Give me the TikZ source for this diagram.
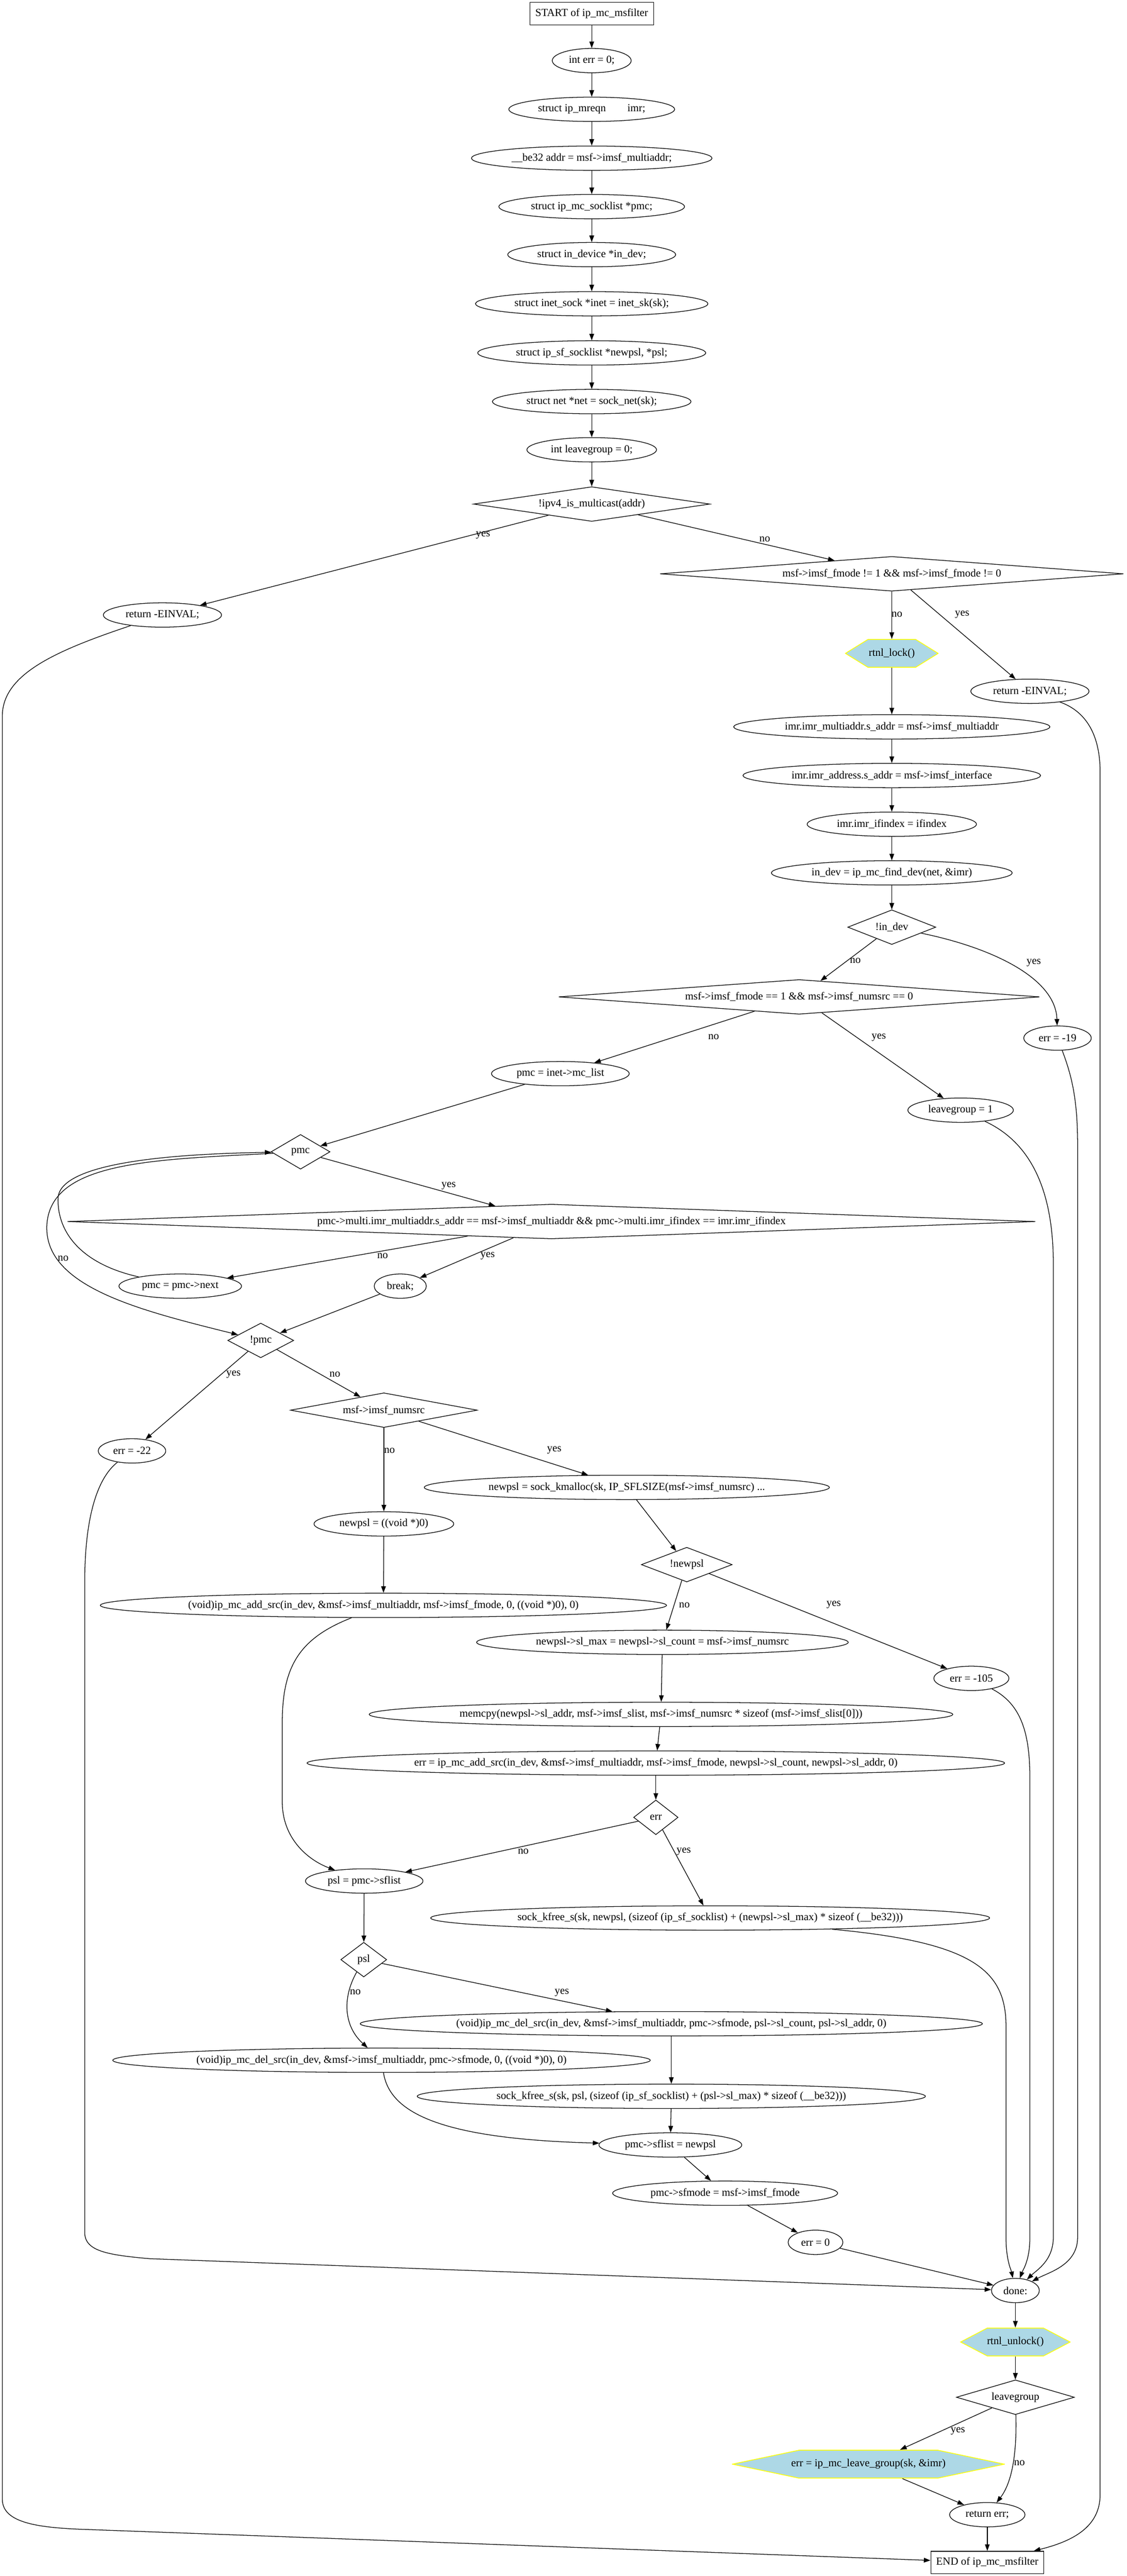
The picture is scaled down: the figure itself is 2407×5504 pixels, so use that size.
\documentclass[tikz,border=0pt]{standalone}
\usepackage{fontspec}
\setmainfont{Liberation Serif}
\usetikzlibrary{shapes.geometric,arrows.meta,calc}

\definecolor{hexfill}{HTML}{ADD8E6}
\definecolor{hexline}{HTML}{FFFF00}

\tikzset{
  every node/.style={font=\fontsize{11.5pt}{13pt}\selectfont},
  stmt/.style={ellipse, draw, line width=0.7pt, inner xsep=5.3pt, inner ysep=1pt, minimum height=26pt},
  term/.style={rectangle, draw, line width=0.7pt, inner xsep=5.8pt, inner ysep=1pt, minimum height=24pt},
  cond/.style={diamond, draw, line width=0.7pt, aspect=1, inner sep=0pt, minimum height=37pt, minimum width=#1,
    execute at begin node={\hbox to 0pt\bgroup\hss}, execute at end node={\hss\egroup}},
  hexnode/.style={rectangle, fill=white, inner sep=0pt, minimum height=30.5pt, minimum width=#1,
    path picture={\filldraw[fill=hexfill, draw=hexline, line width=0.8pt]
      ($(path picture bounding box.west)+(0.5pt,0)$)
      -- ($(path picture bounding box.north west)!.245!(path picture bounding box.north east)+(0,-0.4pt)$)
      -- ($(path picture bounding box.north west)!.755!(path picture bounding box.north east)+(0,-0.4pt)$)
      -- ($(path picture bounding box.east)+(-0.5pt,0)$)
      -- ($(path picture bounding box.south west)!.755!(path picture bounding box.south east)+(0,0.4pt)$)
      -- ($(path picture bounding box.south west)!.245!(path picture bounding box.south east)+(0,0.4pt)$)
      -- cycle;}},
  flow/.style={line width=0.7pt, -{Triangle[length=7pt,width=5pt]}},
  lbl/.style={inner sep=1pt}
}

\begin{document}
\begin{tikzpicture}[x=0.5pt,y=-0.5pt]
    \useasboundingbox (0,0) rectangle (2407,5504);

    % Declarations
    \node [term] (start) at (1264,29) {START of ip\_mc\_msfilter};
    \node [stmt] (interr) at (1264,129.5) {int err = 0;};
    \node [stmt] (mreqn) at (1264,233.5) {struct ip\_mreqn\hspace{2em}imr;};
    \node [stmt] (be32) at (1264,338) {\_\_be32 addr = msf->imsf\_multiaddr;};
    \node [stmt] (socklist) at (1264,441.5) {struct ip\_mc\_socklist *pmc;};
    \node [stmt] (indevice) at (1264,544) {struct in\_device *in\_dev;};
    \node [stmt] (inetsock) at (1264,649) {struct inet\_sock *inet = inet\_sk(sk);};
    \node [stmt] (sfsocklist) at (1264,754) {struct ip\_sf\_socklist *newpsl, *psl;};
    \node [stmt] (netdecl) at (1264,858) {struct net *net = sock\_net(sk);};
    \node [stmt] (leave0) at (1264,961) {int leavegroup = 0;};

    % Argument checks and device lookup
    \node [cond=252.5pt] (ipv4) at (1264,1077) {!ipv4\_is\_multicast(addr)};
    \node [stmt] (einval1) at (347,1314) {return -EINVAL;};
    \node [cond=495pt] (fmode1) at (1905,1226) {msf->imsf\_fmode != 1 \&\& msf->imsf\_fmode != 0};
    \node [hexnode=100pt] (lock) at (1905,1396) {rtnl\_lock()};
    \node [stmt] (einval2) at (2200,1477) {return -EINVAL;};
    \node [stmt] (multiaddr) at (1905,1553) {imr.imr\_multiaddr.s\_addr = msf->imsf\_multiaddr};
    \node [stmt] (ifaddr) at (1905,1657) {imr.imr\_address.s\_addr = msf->imsf\_interface};
    \node [stmt] (ifindex) at (1905,1761) {imr.imr\_ifindex = ifindex};
    \node [stmt] (finddev) at (1905,1865) {in\_dev = ip\_mc\_find\_dev(net, \&imr)};
    \node [cond=94pt] (noindev) at (1905,1981) {!in\_dev};
    \node [cond=513.5pt] (fmode2) at (1707,2130) {msf->imsf\_fmode == 1 \&\& msf->imsf\_numsrc == 0};
    \node [stmt] (err19) at (2259,2218) {err = -19};
    \node [stmt] (mclist) at (1197,2294) {pmc = inet->mc\_list};
    \node [stmt] (leave1) at (2052,2372) {leavegroup = 1};

    % Search of the socket list
    \node [cond=63pt] (pmc) at (642,2461) {pmc};
    \node [cond=1034pt] (match) at (1178,2610) {pmc->multi.imr\_multiaddr.s\_addr == msf->imsf\_multiaddr \&\& pmc->multi.imr\_ifindex == imr.imr\_ifindex};
    \node [stmt] (next) at (385,2748) {pmc = pmc->next};
    \node [stmt] (brk) at (855,2748) {break;};
    \node [cond=70.5pt] (notpmc) at (557,2864) {!pmc};
    \node [stmt] (err22) at (282,3100) {err = -22};
    \node [cond=199.5pt] (numsrc) at (820,3013) {msf->imsf\_numsrc};

    % New source list
    \node [stmt] (kmalloc) at (1339,3178) {newpsl = sock\_kmalloc(sk, IP\_SFLSIZE(msf->imsf\_numsrc) ...};
    \node [stmt] (nullpsl) at (820,3256) {newpsl = ((void *)0)};
    \node [cond=97pt] (notnew) at (1467,3343) {!newpsl};
    \node [stmt] (addsrc0) at (819,3430) {(void)ip\_mc\_add\_src(in\_dev, \&msf->imsf\_multiaddr, msf->imsf\_fmode, 0, ((void *)0), 0)};
    \node [stmt] (slmax) at (1415,3509) {newpsl->sl\_max = newpsl->sl\_count = msf->imsf\_numsrc};
    \node [stmt] (err105) at (2075,3586) {err = -105};
    \node [stmt] (memcpy) at (1412,3663) {memcpy(newpsl->sl\_addr, msf->imsf\_slist, msf->imsf\_numsrc * sizeof (msf->imsf\_slist[0]))};
    \node [stmt] (addsrc) at (1401,3767) {err = ip\_mc\_add\_src(in\_dev, \&msf->imsf\_multiaddr, msf->imsf\_fmode, newpsl->sl\_count, newpsl->sl\_addr, 0)};
    \node [cond=47.5pt] (errd) at (1401,3883) {err};
    \node [stmt] (sflist) at (778,4019) {psl = pmc->sflist};
    \node [stmt] (kfreenew) at (1517,4098) {sock\_kfree\_s(sk, newpsl, (sizeof (ip\_sf\_socklist) + (newpsl->sl\_max) * sizeof (\_\_be32)))};
    \node [cond=49pt] (psld) at (777,4187) {psl};
    \node [stmt] (delsrc) at (1434,4324) {(void)ip\_mc\_del\_src(in\_dev, \&msf->imsf\_multiaddr, pmc->sfmode, psl->sl\_count, psl->sl\_addr, 0)};
    \node [stmt] (delsrc0) at (815,4402) {(void)ip\_mc\_del\_src(in\_dev, \&msf->imsf\_multiaddr, pmc->sfmode, 0, ((void *)0), 0)};
    \node [stmt] (kfreepsl) at (1434,4479) {sock\_kfree\_s(sk, psl, (sizeof (ip\_sf\_socklist) + (psl->sl\_max) * sizeof (\_\_be32)))};
    \node [stmt] (setlist) at (1432,4583) {pmc->sflist = newpsl};
    \node [stmt] (setmode) at (1549,4686) {pmc->sfmode = msf->imsf\_fmode};
    \node [stmt] (err0) at (1742,4791) {err = 0};

    % Exit
    \node [stmt] (done) at (2169,4894) {done:};
    \node [hexnode=118pt] (unlock) at (2169,5004) {rtnl\_unlock()};
    \node [cond=126pt] (leaved) at (2169,5122) {leavegroup};
    \node [hexnode=291.5pt] (leavegrp) at (1855,5265) {err = ip\_mc\_leave\_group(sk, \&imr)};
    \node [stmt] (reterr) at (2109,5373) {return err;};
    \node [term] (stop) at (2109,5475) {END of ip\_mc\_msfilter};

    % Plain connectors
    \foreach \a/\b in {start/interr, interr/mreqn, mreqn/be32, be32/socklist, socklist/indevice,
        indevice/inetsock, inetsock/sfsocklist, sfsocklist/netdecl, netdecl/leave0, leave0/ipv4,
        lock/multiaddr, multiaddr/ifaddr, ifaddr/ifindex, ifindex/finddev, finddev/noindev,
        mclist/pmc, brk/notpmc, nullpsl/addsrc0, kmalloc/notnew, slmax/memcpy, memcpy/addsrc,
        addsrc/errd, sflist/psld, delsrc/kfreepsl, kfreepsl/setlist, setlist/setmode,
        setmode/err0, err0/done, done/unlock, unlock/leaved, leavegrp/reterr, reterr/stop}
        \draw [flow] (\a) -- (\b);

    % Branches
    \draw [flow] (ipv4) -- (einval1) node [lbl, pos=.22, xshift=12pt] {yes};
    \draw [flow] (ipv4) -- (fmode1) node [lbl, pos=.54, xshift=22pt] {no};
    \draw [flow] (fmode1) -- (lock) node [lbl, pos=.49, xshift=5.5pt] {no};
    \draw [flow] (fmode1) -- (einval2) node [lbl, pos=.275, xshift=24pt] {yes};
    \draw [flow] (noindev) -- (fmode2) node [lbl, pos=.52, xshift=8.5pt] {no};
    \draw [flow] (noindev) .. controls (2120,2025) and (2255,2090) .. (err19) node [lbl, pos=.45, xshift=28pt] {yes};
    \draw [flow] (fmode2) -- (mclist) node [lbl, pos=.5, xshift=42pt] {no};
    \draw [flow] (fmode2) -- (leave1) node [lbl, pos=.29, xshift=23pt] {yes};
    \draw [flow] (pmc) -- (match) node [lbl, pos=.59, xshift=26.5pt] {yes};
    \draw [flow] (pmc) .. controls (330,2478) and (105,2480) .. (100,2620)
        .. controls (96,2750) and (300,2800) .. (notpmc) node [lbl, pos=.2, xshift=7pt] {no};
    \draw [flow] (match) -- (next) node [lbl, pos=.47, xshift=30pt] {no};
    \draw [flow] (match) -- (brk) node [lbl, pos=.45, xshift=17.5pt] {yes};
    \draw [flow] (next) .. controls (170,2700) and (122,2630) .. (124,2560)
        .. controls (127,2490) and (330,2466) .. (pmc);
    \draw [flow] (notpmc) -- (err22) node [lbl, pos=.26, xshift=13pt] {yes};
    \draw [flow] (notpmc) -- (numsrc) node [lbl, pos=.52, xshift=15.5pt] {no};
    \draw [flow] (numsrc) -- (nullpsl) node [lbl, pos=.27, xshift=6pt] {no};
    \draw [flow] (numsrc) -- (kmalloc) node [lbl, pos=.54, xshift=47pt] {yes};
    \draw [flow] (notnew) -- (slmax) node [lbl, pos=.5, xshift=11pt] {no};
    \draw [flow] (notnew) -- (err105) node [lbl, pos=.33, xshift=49pt] {yes};
    \draw [flow] (errd) -- (sflist) node [lbl, pos=.6, xshift=26.5pt] {no};
    \draw [flow] (errd) -- (kfreenew) node [lbl, pos=.29, xshift=10pt] {yes};
    \draw [flow] (psld) -- (delsrc) node [lbl, pos=.61, xshift=42pt] {yes};
    \draw [flow] (psld) .. controls (730,4270) and (735,4330) .. (delsrc0) node [lbl, pos=.25, xshift=7pt] {no};
    \draw [flow] (leaved) -- (leavegrp) node [lbl, pos=.56, xshift=18.5pt] {yes};
    \draw [flow] (leaved) .. controls (2172,5230) and (2165,5300) .. (reterr) node [lbl, pos=.5, xshift=7pt] {no};

    % Joins
    \draw [flow] (addsrc0) .. controls (640,3500) and (603,3560) .. (603,3680) -- (603,3850)
        .. controls (603,3930) and (660,3975) .. (sflist);
    \draw [flow] (delsrc0) .. controls (832,4510) and (930,4570) .. (setlist);

    % Long connectors to done and to the end
    \draw [flow] (kfreenew) .. controls (2080,4150) and (2149,4210) .. (2149,4330) -- (2149,4780)
        .. controls (2149,4830) and (2160,4850) .. (done);
    \draw [flow] (err105) .. controls (2180,3640) and (2200,3700) .. (2200,3800) -- (2200,4780)
        .. controls (2200,4830) and (2185,4850) .. (done);
    \draw [flow] (leave1) .. controls (2200,2440) and (2250,2540) .. (2250,2700) -- (2250,4780)
        .. controls (2250,4830) and (2215,4850) .. (done);
    \draw [flow] (err19) .. controls (2290,2300) and (2302,2350) .. (2302,2450) -- (2302,4780)
        .. controls (2302,4840) and (2240,4855) .. (done);
    \draw [flow] (err22) .. controls (205,3160) and (181,3250) .. (181,3380) -- (181,4770)
        .. controls (181,4810) and (230,4818) .. (320,4826) -- (done);
    \draw [flow] (einval1) .. controls (120,1390) and (5,1440) .. (5,1530) -- (5,5340)
        .. controls (5,5390) and (80,5400) .. (170,5404) -- (stop);
    \draw [flow] (einval2) .. controls (2320,1520) and (2350,1570) .. (2350,1650) -- (2350,5330)
        .. controls (2350,5400) and (2290,5430) .. (stop);
\end{tikzpicture}
\end{document}
